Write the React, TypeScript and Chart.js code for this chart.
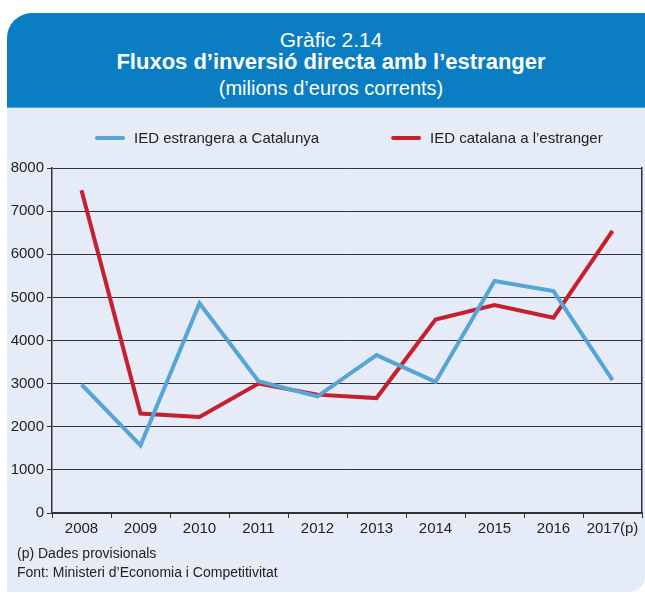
import React, { useEffect, useRef } from "react";
import { Chart, registerables } from "chart.js";

Chart.register(...registerables);

const categories = ["2008", "2009", "2010", "2011", "2012", "2013", "2014", "2015", "2016", "2017(p)"];
const iedEstrangera = [2980, 1565, 4865, 3055, 2705, 3660, 3040, 5380, 5145, 3080];
const iedCatalana = [7485, 2305, 2225, 3000, 2745, 2665, 4485, 4820, 4530, 6540];
const yTicks = [0, 1000, 2000, 3000, 4000, 5000, 6000, 7000, 8000];
const seriesLabels = ["IED estrangera a Catalunya", "IED catalana a l\u2019estranger"];

const BLUE = "#57a4d7";
const RED = "#c61f30";
const TEXT = "#222222";
const NARROW = "'Liberation Sans Narrow', 'Liberation Sans', Arial, sans-serif";
const SANS = "'Liberation Sans', Arial, sans-serif";

const legendPlugin = {
  id: "customLegend",
  afterDraw(chart: any) {
    const ctx = chart.ctx;
    ctx.save();
    ctx.font = `15px ${SANS}`;
    ctx.textBaseline = "middle";
    ctx.textAlign = "left";
    let x = 95;
    const y = 30;
    chart.data.datasets.forEach((ds: any) => {
      ctx.strokeStyle = ds.borderColor;
      ctx.lineWidth = 4;
      ctx.lineCap = "round";
      ctx.beginPath();
      ctx.moveTo(x + 2, y);
      ctx.lineTo(x + 28, y);
      ctx.stroke();
      ctx.fillStyle = TEXT;
      ctx.fillText(ds.label, x + 39, y + 1);
      x += 39 + ctx.measureText(ds.label).width + 72;
    });
    ctx.restore();
  },
};

export default function App() {
  const ref = useRef<HTMLCanvasElement | null>(null);

  useEffect(() => {
    if (!ref.current) return;
    const chart = new Chart(ref.current, {
      type: "line",
      data: {
        labels: categories,
        datasets: [
          {
            label: seriesLabels[0],
            data: iedEstrangera,
            borderColor: BLUE,
            backgroundColor: BLUE,
            borderWidth: 4,
            pointRadius: 0,
            tension: 0,
            yAxisID: "y",
          },
          {
            label: seriesLabels[1],
            data: iedCatalana,
            borderColor: RED,
            backgroundColor: RED,
            borderWidth: 4,
            pointRadius: 0,
            tension: 0,
            yAxisID: "y",
          },
        ],
      },
      options: {
        responsive: false,
        animation: false,
        layout: { padding: { top: 60, right: 3, bottom: 0, left: 0 } },
        plugins: {
          legend: { display: false },
          tooltip: { enabled: false },
        },
        scales: {
          x: {
            type: "category",
            offset: true,
            grid: {
              offset: true,
              drawOnChartArea: false,
              drawTicks: true,
              tickLength: 5,
              color: "#333333",
              lineWidth: 1,
            },
            border: { display: true, color: "#333333", width: 1.5 },
            ticks: {
              color: TEXT,
              font: { family: NARROW, size: 15 },
              padding: 2,
              maxRotation: 0,
              autoSkip: false,
            },
            afterFit: (scale: any) => {
              scale.height = 32;
            },
          },
          y: {
            min: 0,
            max: 8000,
            afterBuildTicks: (scale: any) => {
              scale.ticks = yTicks.map((v) => ({ value: v }));
            },
            grid: {
              color: "#333333",
              lineWidth: 1,
              tickLength: 5,
              drawTicks: true,
            },
            border: { display: true, color: "#333333", width: 1.5 },
            ticks: {
              color: TEXT,
              font: { family: NARROW, size: 15 },
              padding: 3,
              callback: (v: any) => String(v),
            },
            afterFit: (scale: any) => {
              scale.width = 52;
            },
          },
          y2: {
            position: "right",
            min: 0,
            max: 8000,
            grid: { display: false, drawTicks: false },
            ticks: { display: false },
            border: { display: true, color: "#333333", width: 1.5 },
            afterFit: (scale: any) => {
              scale.width = 0;
            },
          },
        },
      },
      plugins: [legendPlugin],
    });
    return () => chart.destroy();
  }, []);

  return (
    <div style={{ position: "absolute", left: 0, top: 0, width: 645, height: 593, background: "#ffffff", overflow: "hidden" }}>
      <div
        style={{
          position: "absolute",
          left: 7,
          top: 13,
          width: 638,
          height: 579,
          background: "#e5ebf7",
          borderRadius: "25px 0 15px 0",
          overflow: "hidden",
        }}
      >
        <div
          style={{
            position: "absolute",
            left: 0,
            top: 0,
            width: 638,
            height: 94,
            background: "#0a7dc3",
            borderBottom: "1px solid #5fa6dc",
          }}
        />
      </div>
      <div style={{ position: "absolute", left: 17, top: 0, width: 628, textAlign: "center", color: "#ffffff", fontFamily: SANS }}>
        <div style={{ position: "absolute", left: 0, width: 628, top: 28, fontSize: 21, lineHeight: "24px" }}>Gràfic 2.14</div>
        <div style={{ position: "absolute", left: 0, width: 628, top: 50, fontSize: 22, lineHeight: "24px", fontWeight: "bold" }}>
          Fluxos d’inversió directa amb l’estranger
        </div>
        <div style={{ position: "absolute", left: 0, width: 628, top: 76, fontSize: 20, lineHeight: "24px" }}>
          (milions d’euros corrents)
        </div>
      </div>
      <canvas ref={ref} width={645} height={437} style={{ position: "absolute", left: 0, top: 108, width: 645, height: 437 }} />
      <div style={{ position: "absolute", left: 17, top: 544, fontFamily: SANS, fontSize: 14, lineHeight: "19px", color: TEXT }}>
        <div>(p) Dades provisionals</div>
        <div>Font: Ministeri d’Economia i Competitivitat</div>
      </div>
    </div>
  );
}
